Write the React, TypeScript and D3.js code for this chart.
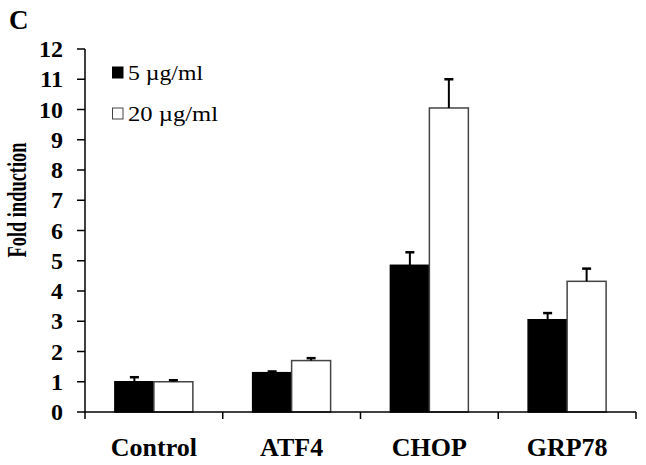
import React from "react";
import * as d3 from "d3";

const categories = ["Control", "ATF4", "CHOP", "GRP78"];
const seriesNames = ["5 µg/ml", "20 µg/ml"];
const values5 = [1.0, 1.3, 4.85, 3.05];
const values20 = [1.0, 1.7, 10.05, 4.32];
const err5 = [0.15, 0.04, 0.43, 0.22];
const err20 = [0.05, 0.08, 0.95, 0.42];
const yTicks = [0, 1, 2, 3, 4, 5, 6, 7, 8, 9, 10, 11, 12];

const W = 646;
const H = 465;
const FONT = "'Liberation Serif', 'Times New Roman', serif";

export default function App() {
  const x0 = d3.scaleBand<string>().domain(categories).range([85, 636]).padding(0);
  const step = x0.bandwidth();
  const gap = step * 0.217;
  const x1 = d3.scaleBand<string>().domain(seriesNames).range([gap, step - gap]).padding(0);
  const y = d3.scaleLinear().domain([0, 12]).range([412, 49]);

  const fills = ["#000", "#fff"];
  const series = [
    { name: seriesNames[0], vals: values5, errs: err5, fill: fills[0] },
    { name: seriesNames[1], vals: values20, errs: err20, fill: fills[1] },
  ];

  const boundaries = [...categories.map((c) => x0(c)!), x0.range()[1]];

  return (
    <svg
      width={W}
      height={H}
      style={{ position: "fixed", left: 0, top: 0, background: "#fff" }}
      fontFamily={FONT}
    >
      <rect x={0} y={0} width={W} height={H} fill="#fff" />
      <text x={9} y={29} fontSize={27} fontWeight="bold">C</text>

      {/* bars */}
      {series.map((s) =>
        categories.map((c, i) => {
          const bx = x0(c)! + x1(s.name)!;
          const bw = x1.bandwidth();
          const top = y(s.vals[i]);
          return (
            <rect
              key={s.name + c}
              x={bx}
              y={top}
              width={bw}
              height={y(0) - top}
              fill={s.fill}
              stroke={s.fill === "#000" ? "#000" : "#444"}
              strokeWidth={1.5}
            />
          );
        })
      )}

      {/* error bars */}
      {series.map((s) =>
        categories.map((c, i) => {
          const cx = x0(c)! + x1(s.name)! + x1.bandwidth() / 2;
          const t = y(s.vals[i]);
          const e = y(s.vals[i] + s.errs[i]);
          return (
            <g key={"e" + s.name + c}>
              <line x1={cx} x2={cx} y1={t} y2={e} stroke="#000" strokeWidth={2} />
              <line x1={cx - 4.5} x2={cx + 4.5} y1={e} y2={e} stroke="#000" strokeWidth={2.5} />
            </g>
          );
        })
      )}

      {/* y axis */}
      <line x1={85} x2={85} y1={y(12)} y2={y(0)} stroke="#000" strokeWidth={1.5} />
      {yTicks.map((t) => (
        <g key={"yt" + t}>
          <line x1={77} x2={85} y1={y(t)} y2={y(t)} stroke="#000" strokeWidth={1.5} />
          <text
            x={63}
            y={y(t)}
            dy="0.34em"
            textAnchor="end"
            fontSize={24}
            fontWeight="bold"
          >
            {t}
          </text>
        </g>
      ))}

      {/* x axis */}
      <line x1={85} x2={636} y1={y(0)} y2={y(0)} stroke="#000" strokeWidth={1.5} />
      {boundaries.map((b, i) => (
        <line key={"xt" + i} x1={b} x2={b} y1={y(0)} y2={y(0) + 7} stroke="#000" strokeWidth={1.5} />
      ))}
      {categories.map((c) => (
        <text
          key={"xl" + c}
          x={x0(c)! + step / 2}
          y={456}
          textAnchor="middle"
          fontSize={26}
          fontWeight="bold"
        >
          {c}
        </text>
      ))}

      {/* y label */}
      <text
        transform={`translate(26,200) rotate(-90)`}
        textAnchor="middle"
        fontSize={28}
        fontWeight="bold"
        textLength={115}
        lengthAdjust="spacingAndGlyphs"
      >
        Fold induction
      </text>

      {/* legend */}
      {series.map((s, i) => (
        <g key={"lg" + s.name} transform={`translate(0,${i * 41})`}>
          <rect
            x={112.5}
            y={67}
            width={10.5}
            height={11}
            fill={s.fill}
            stroke={s.fill === "#000" ? "#000" : "#444"}
            strokeWidth={1}
          />
          <text
            x={128}
            y={80}
            fontSize={21}
            textLength={i === 0 ? 75 : 90}
            lengthAdjust="spacingAndGlyphs"
          >
            {s.name}
          </text>
        </g>
      ))}
    </svg>
  );
}
